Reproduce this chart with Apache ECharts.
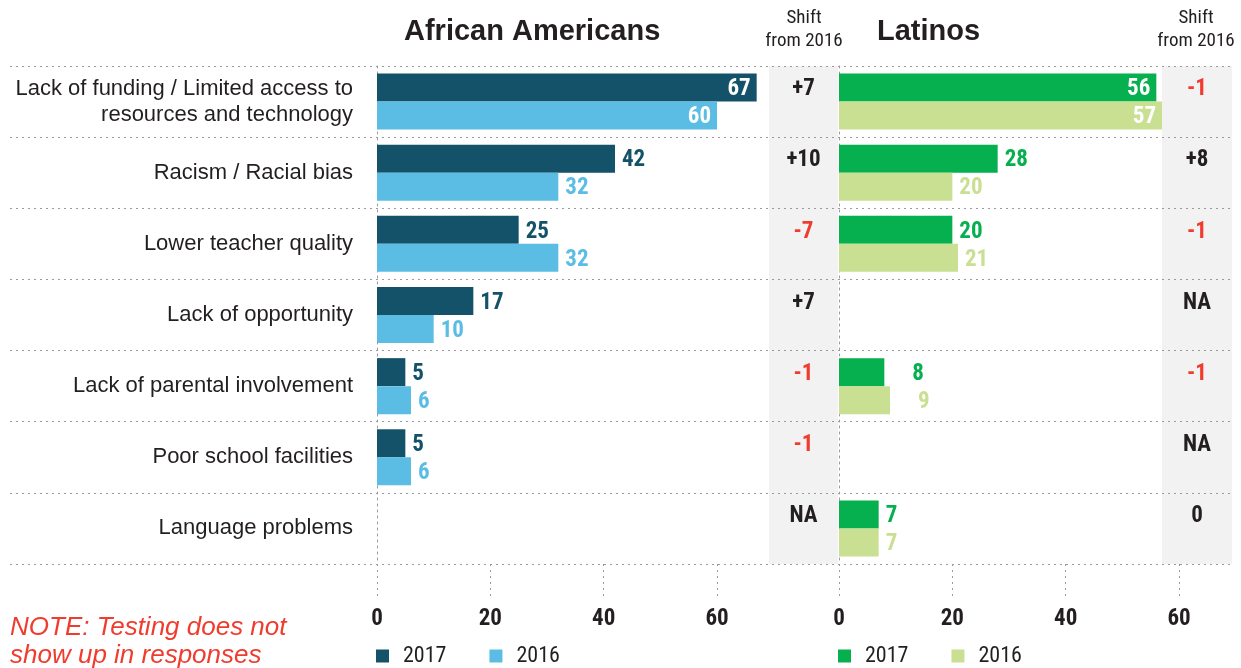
<!DOCTYPE html>
<html>
<head>
<meta charset="utf-8">
<script src="https://cdn.jsdelivr.net/npm/echarts@6/dist/echarts.min.js"></script>
<style>
html,body{margin:0;padding:0;background:#fff;}
#chart{width:1241px;height:668px;}
</style>
</head>
<body>
<div id="chart"></div>
<script>
const categories = [
  'Lack of funding / Limited access to\nresources and technology',
  'Racism / Racial bias',
  'Lower teacher quality',
  'Lack of opportunity',
  'Lack of parental involvement',
  'Poor school facilities',
  'Language problems'
];
const aa2017 = [67, 42, 25, 17, 5, 5, null];
const aa2016 = [60, 32, 32, 10, 6, 6, null];
const la2017 = [56, 28, 20, null, 8, null, 7];
const la2016 = [57, 20, 21, null, 9, null, 7];
const aaShift = ['+7', '+10', '-7', '+7', '-1', '-1', 'NA'];
const laShift = ['-1', '+8', '-1', 'NA', '-1', 'NA', '0'];

const C = {
  aa17: '#135269', aa16: '#5bbde4', la17: '#06b04f', la16: '#c9df92',
  red: '#f03c2e', ink: '#231f20', dot: '#9a9a9a', band: '#f2f2f2'
};
const NARROW = '"Roboto Condensed", Roboto, sans-serif';
const SANS = '"Liberation Sans", Arial, sans-serif';

function barData(values, color, isLatino) {
  return values.map((v, i) => {
    if (v === null) return '-';
    const inside = v >= 50;
    return {
      value: v,
      label: {
        show: true,
        position: inside ? 'insideRight' : 'right',
        distance: inside ? 6 : (isLatino && i === 4 ? 28 : 7),
        offset: [0, 2],
        color: inside ? '#fff' : color,
        fontFamily: NARROW, fontWeight: 'bold', fontSize: 23
      }
    };
  });
}
function shiftData(list) {
  return list.map((s, i) => ({
    value: [0.5, categories[i]],
    label: { color: s.charAt(0) === '-' ? C.red : C.ink }
  }));
}

const GT = 66, GH = 498;
const dotted = { color: C.dot, type: [2, 4], width: 1 };

const valueAxis = (gi) => ({
  type: 'value', gridIndex: gi, min: 0, max: 60, interval: 20,
  axisLine: { show: false },
  axisTick: { show: true, length: 34, lineStyle: dotted },
  splitLine: { show: false },
  axisLabel: { margin: 44, fontFamily: NARROW, fontWeight: 'bold', fontSize: 23, color: C.ink }
});
const hiddenValue = (gi) => ({ type: 'value', gridIndex: gi, min: 0, max: 1, show: false });
const catAxis = (gi, extra) => Object.assign({
  type: 'category', gridIndex: gi, data: categories, inverse: true,
  axisTick: { show: false }, axisLabel: { show: false }, axisLine: { show: false },
  splitLine: { show: false }
}, extra);

const legendBase = {
  icon: 'rect', itemWidth: 13, itemHeight: 13, itemGap: 43, selectedMode: false, padding: 0,
  formatter: (n) => n.split(' ')[1],
  textStyle: { fontFamily: NARROW, fontSize: 22, color: C.ink, padding: [0, 0, 0, 9] }
};

const shiftLabel = {
  show: true, position: 'inside', offset: [0, -12], opacity: 1,
  fontFamily: NARROW, fontWeight: 'bold', fontSize: 23
};

const option = {
  animation: false,
  backgroundColor: '#fff',
  grid: [
    { left: 769, width: 69, top: GT, height: GH, show: true, backgroundColor: C.band, borderWidth: 0, z: -2 },
    { left: 1162, width: 70, top: GT, height: GH, show: true, backgroundColor: C.band, borderWidth: 0, z: -2 },
    { left: 10, width: 1222, top: GT, height: GH, z: -1 },
    { left: 377, width: 340, top: GT, height: GH },
    { left: 839, width: 340, top: GT, height: GH }
  ],
  xAxis: [hiddenValue(0), hiddenValue(1), hiddenValue(2), valueAxis(3), valueAxis(4)],
  yAxis: [
    catAxis(0, { show: false }),
    catAxis(1, { show: false }),
    catAxis(2, { splitLine: { show: true, interval: 0, lineStyle: dotted }, z: -1 }),
    catAxis(3, {
      axisLine: { show: true, lineStyle: dotted },
      axisLabel: { show: true, margin: 24, fontFamily: SANS, fontSize: 22, lineHeight: 26, color: C.ink, interval: 0 }
    }),
    catAxis(4, { axisLine: { show: true, lineStyle: dotted } })
  ],
  legend: [
    Object.assign({}, legendBase, { data: ['AA 2017', 'AA 2016'], left: 376, top: 645 }),
    Object.assign({}, legendBase, { data: ['LA 2017', 'LA 2016'], left: 838, top: 645 })
  ],
  graphic: [
    { type: 'text', left: 404, top: 17, silent: true,
      style: { text: 'African Americans', font: 'bold 29px ' + SANS, fill: C.ink } },
    { type: 'text', left: 877, top: 17, silent: true,
      style: { text: 'Latinos', font: 'bold 29px ' + SANS, fill: C.ink } },
    { type: 'text', x: 804, y: 30, silent: true,
      style: { text: 'Shift\nfrom 2016', font: '19px ' + NARROW, fill: C.ink, align: 'center', verticalAlign: 'middle', lineHeight: 23 } },
    { type: 'text', x: 1196, y: 30, silent: true,
      style: { text: 'Shift\nfrom 2016', font: '19px ' + NARROW, fill: C.ink, align: 'center', verticalAlign: 'middle', lineHeight: 23 } },
    { type: 'text', left: 10, top: 614, silent: true,
      style: { text: 'NOTE: Testing does not\nshow up in responses', font: 'italic 26px ' + SANS, fill: C.red, lineHeight: 28 } }
  ],
  series: [
    { name: 'AA 2017', type: 'bar', xAxisIndex: 3, yAxisIndex: 3, barWidth: 28, barGap: '0%', clip: false,
      itemStyle: { color: C.aa17 }, silent: true, data: barData(aa2017, C.aa17, false) },
    { name: 'AA 2016', type: 'bar', xAxisIndex: 3, yAxisIndex: 3, barWidth: 28, barGap: '0%', clip: false,
      itemStyle: { color: C.aa16 }, silent: true, data: barData(aa2016, C.aa16, false) },
    { name: 'LA 2017', type: 'bar', xAxisIndex: 4, yAxisIndex: 4, barWidth: 28, barGap: '0%', clip: false,
      itemStyle: { color: C.la17 }, silent: true, data: barData(la2017, C.la17, true) },
    { name: 'LA 2016', type: 'bar', xAxisIndex: 4, yAxisIndex: 4, barWidth: 28, barGap: '0%', clip: false,
      itemStyle: { color: C.la16 }, silent: true, data: barData(la2016, C.la16, true) },
    { name: 'AA shift', type: 'scatter', xAxisIndex: 0, yAxisIndex: 0, symbolSize: 1, silent: true,
      itemStyle: { color: 'rgba(0,0,0,0)', opacity: 1 },
      label: Object.assign({ formatter: (p) => aaShift[p.dataIndex] }, shiftLabel),
      data: shiftData(aaShift) },
    { name: 'LA shift', type: 'scatter', xAxisIndex: 1, yAxisIndex: 1, symbolSize: 1, silent: true,
      itemStyle: { color: 'rgba(0,0,0,0)', opacity: 1 },
      label: Object.assign({ formatter: (p) => laShift[p.dataIndex] }, shiftLabel),
      data: shiftData(laShift) }
  ]
};

const chart = echarts.init(document.getElementById('chart'), null, { renderer: 'canvas' });
chart.setOption(option);
</script>
</body>
</html>
